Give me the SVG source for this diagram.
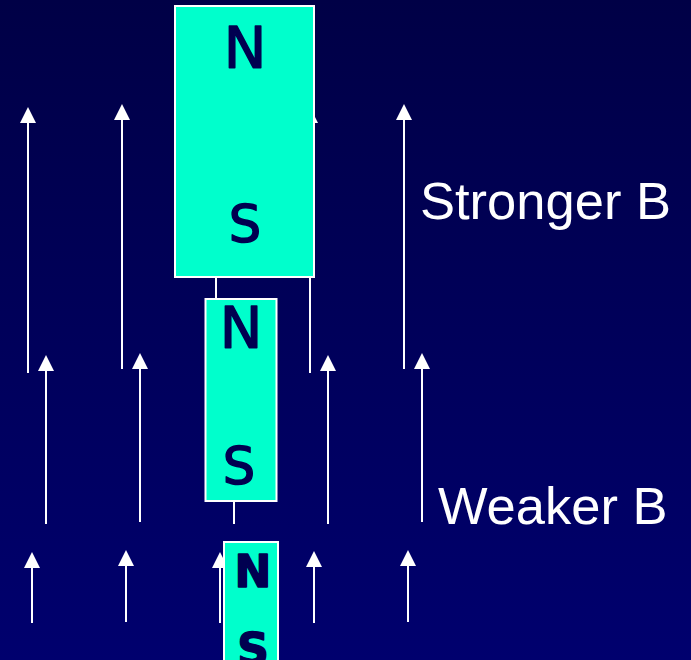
<svg xmlns="http://www.w3.org/2000/svg" width="691" height="660" viewBox="0 0 691 660">
<defs>
<linearGradient id="bg" x1="0" y1="0" x2="0" y2="1">
<stop offset="0" stop-color="#000046"/>
<stop offset="1" stop-color="#00006e"/>
</linearGradient>
<marker id="head" markerUnits="userSpaceOnUse" markerWidth="16" markerHeight="16" viewBox="0 0 15 15" refX="0" refY="7.5" orient="auto">
<path d="M0,0 L15,7.5 L0,15 Z" fill="#ffffff"/>
</marker>
<style>
.fl{stroke:#ffffff;stroke-width:2;fill:none;marker-end:url(#head)}
.mag{fill:#00ffcc;stroke:#ffffff;stroke-width:2}
.pole{font-family:"DejaVu Sans","Noto Sans",sans-serif;fill:#000050;text-anchor:middle;stroke:#000050;stroke-width:1.5;stroke-linejoin:round}
.lbl{font-family:"Liberation Sans",Arial,sans-serif;font-size:52.5px;fill:#ffffff}
</style>
</defs>
<rect x="0" y="0" width="691" height="660" fill="url(#bg)"/>
<g id="field-lines">
<line class="fl" x1="28" y1="373" x2="28" y2="123"/>
<line class="fl" x1="122" y1="369" x2="122" y2="120"/>
<line class="fl" x1="216" y1="373" x2="216" y2="123"/>
<line class="fl" x1="310" y1="373" x2="310" y2="123"/>
<line class="fl" x1="404" y1="369" x2="404" y2="120"/>
<line class="fl" x1="46" y1="524" x2="46" y2="371"/>
<line class="fl" x1="140" y1="522" x2="140" y2="369"/>
<line class="fl" x1="234" y1="524" x2="234" y2="371"/>
<line class="fl" x1="328" y1="524" x2="328" y2="371"/>
<line class="fl" x1="422" y1="522" x2="422" y2="369"/>
<line class="fl" x1="32" y1="623" x2="32" y2="568"/>
<line class="fl" x1="126" y1="622" x2="126" y2="566"/>
<line class="fl" x1="220" y1="623" x2="220" y2="568"/>
<line class="fl" x1="314" y1="623" x2="314" y2="567"/>
<line class="fl" x1="408" y1="622" x2="408" y2="566"/>
</g>
<g id="magnet-large">
<rect class="mag" x="175" y="6" width="139" height="271"/>
<text class="pole" x="245" y="68" font-size="57">N</text>
<text class="pole" x="245" y="242" font-size="51">S</text>
</g>
<g id="magnet-medium">
<rect class="mag" x="205.5" y="299" width="71" height="202"/>
<text class="pole" x="241" y="348" font-size="57">N</text>
<text class="pole" x="239" y="484" font-size="51">S</text>
</g>
<g id="magnet-small">
<rect class="mag" x="224" y="542" width="54" height="130"/>
<text class="pole" x="253" y="587" font-size="44" font-weight="bold">N</text>
<text class="pole" x="253" y="665" font-size="44" font-weight="bold">S</text>
</g>
<text class="lbl" x="420" y="219">Stronger B</text>
<text class="lbl" x="438" y="524">Weaker B</text>
</svg>
